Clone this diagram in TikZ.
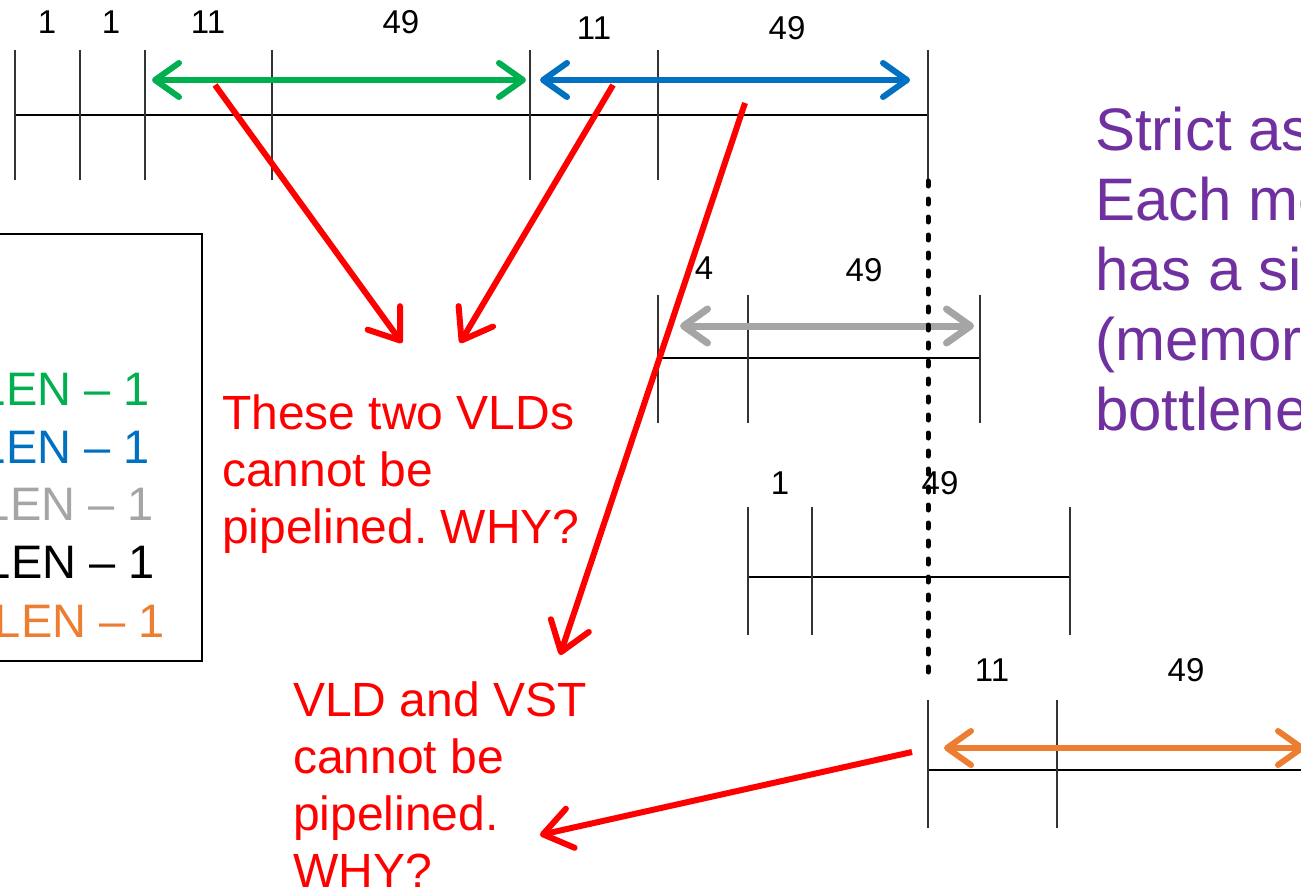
\documentclass[tikz,border=0pt]{standalone}
\usepackage{fontspec}
\setmainfont{Liberation Sans}
\usetikzlibrary{arrows.meta}
\definecolor{cgreen}{HTML}{00B050}
\definecolor{cblue}{HTML}{0070C0}
\definecolor{cgray}{HTML}{A5A5A5}
\definecolor{corange}{HTML}{ED7D31}
\definecolor{cpurple}{HTML}{7030A0}
\definecolor{cred}{HTML}{FF0000}
\frenchspacing
\begin{document}
\begin{tikzpicture}[x=1pt,y=-1pt,
  tick/.style={line width=1.3pt, draw=black!80},
  hline/.style={line width=1.3pt, draw=black},
  num/.style={font=\fontsize{33}{38}\selectfont, inner sep=0pt},
  span/.style={line width=6pt, line cap=round,
     {Straight Barb[length=24pt,width=34pt,round]}-{Straight Barb[length=24pt,width=34pt,round]}},
  redarrow/.style={line width=6pt, draw=cred, -{Straight Barb[length=28pt,width=40pt,round]}},
  redtext/.style={font=\fontsize{48}{57}\selectfont, text=cred, align=left, inner sep=0pt, anchor=north west},
  legend/.style={font=\fontsize{47}{57}\selectfont, inner sep=0pt, anchor=base east},
  sync/.style={line width=5pt, line cap=round, dash pattern=on 5pt off 13pt}
]
\useasboundingbox (0,0) rectangle (1301,888);
\clip (0,0) rectangle (1301,888);
\fill[white] (0,0) rectangle (1301,888);

% ---- Row 1 ----
\draw[hline] (15,115) -- (928,115);
\foreach \x in {15,80,145,272,530,658,928} \draw[tick] (\x,50) -- (\x,180);
\node[num] (l1a) at (47,22) {1};
\node[num] (l1b) at (111,22) {1};
\node[num] (l1c) at (208,22) {11};
\node[num] (l1d) at (401,22) {49};
\node[num] (l1e) at (594,28) {11};
\node[num] (l1f) at (787,28) {49};
\coordinate (g1) at (152,80); \coordinate (g2) at (526,80);
\coordinate (b1) at (540,80); \coordinate (b2) at (910,80);
\draw[span, cgreen] (g1) -- (g2);
\draw[span, cblue] (b1) -- (b2);

% ---- Row 2 ----
\draw[hline] (658,358) -- (980,358);
\foreach \x in {658,748,980} \draw[tick] (\x,295) -- (\x,423);
\node[num] (l2a) at (704,268) {4};
\node[num] (l2b) at (864,270) {49};
\coordinate (y1) at (680,326); \coordinate (y2) at (974,326);
\draw[span, cgray, line width=7pt] (y1) -- (y2);

% ---- Row 3 ----
\draw[hline] (748,577) -- (1070,577);
\foreach \x in {748,812,1070} \draw[tick] (\x,507) -- (\x,635);
\node[num] (l3a) at (780,483) {1};
\node[num] (l3b) at (940,483) {49};

% ---- Row 4 ----
\draw[hline] (928,770) -- (1301,770);
\foreach \x in {928,1057} \draw[tick] (\x,700) -- (\x,828);
\node[num] (l4a) at (992,670) {11};
\node[num] (l4b) at (1186,670) {49};
\coordinate (o1) at (944,748); \coordinate (o2) at (1305,748);
\draw[span, corange] (o1) -- (o2);

% ---- sync line ----
\coordinate (s1) at (928,181); \coordinate (s2) at (928,676);
\draw[sync] (s1) -- (s2);

% ---- legend ----
\draw[line width=1.5pt] (-5,234) rectangle (202,661);
\node[legend, text=cgreen] (lg1) at (150,405) {LEN – 1};
\node[legend, text=cblue] (lg2) at (150,463) {LEN – 1};
\node[legend, text=cgray] (lg3) at (154,520) {LEN – 1};
\node[legend, text=black] (lg4) at (155,578) {LEN – 1};
\node[legend, text=corange] (lg5) at (165,637) {LEN – 1};

% ---- red notes ----
\node[redtext] (t1) at (222,395) {These two VLDs\\cannot be\\pipelined. WHY?};
\node[redtext] (t2) at (293,682) {VLD and VST\\cannot be\\pipelined.\\WHY?};

% ---- purple note ----
\node[font=\fontsize{60}{70}\selectfont, text=cpurple, align=left, inner sep=0pt, anchor=north west]
  (p) at (1095,107) {Strict assumption:\\Each memory bank\\has a single port\\(memory bandwidth\\bottleneck)};

% ---- red arrows ----
\coordinate (r1s) at (215,85);  \coordinate (r1e) at (402,343);
\coordinate (r2s) at (613,85);  \coordinate (r2e) at (460,343);
\coordinate (r3s) at (745,103); \coordinate (r3e) at (560,655);
\coordinate (r4s) at (912,752); \coordinate (r4e) at (540,835);
\draw[redarrow] (r1s) -- (r1e);
\draw[redarrow] (r2s) -- (r2e);
\draw[redarrow] (r3s) -- (r3e);
\draw[redarrow] (r4s) -- (r4e);
\end{tikzpicture}
\end{document}
